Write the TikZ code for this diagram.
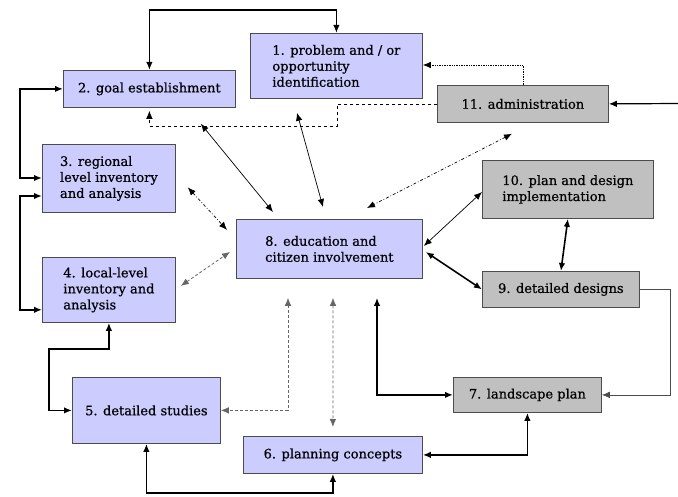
\documentclass[tikz,border=0pt]{standalone}
\usepackage{fontspec}
\setmainfont{DejaVu Serif}
\newfontfamily\boxfont[FakeBold=0.6]{DejaVu Serif}
\usetikzlibrary{calc}
\usetikzlibrary{arrows.meta}
\definecolor{boxblue}{RGB}{204,204,255}
\definecolor{boxgrey}{RGB}{192,192,192}

\begin{document}
\begin{tikzpicture}[
        x=1pt, y=-1pt,
        every node/.style={draw=black!70,line width=0.8pt,anchor=north west,align=left,inner sep=2pt,font=\boxfont\fontsize{13}{16}\selectfont},
        bluestep/.style={fill=boxblue},
        greystep/.style={fill=boxgrey},
        thinline/.style={line width=0.7pt},
        thickline/.style={line width=1.6pt},
        dotline/.style={line width=0.8pt,black!60,densely dashed},
        >={Latex[length=8pt,width=6.5pt]}
    ]
        \useasboundingbox (0,0) rectangle (678,497);
        \node[bluestep,minimum width=172,minimum height=65] (s1) at (250,33) {1. problem and / or\\opportunity\\identification};
        \node[bluestep,minimum width=172,minimum height=37] (s2) at (63,70) {2. goal establishment};
        \node[bluestep,minimum width=133,minimum height=68] (s3) at (42,144) {3. regional\\level inventory\\and analysis};
        \node[bluestep,minimum width=133,minimum height=65] (s4) at (42,257) {4. local-level\\inventory and\\analysis};
        \node[bluestep,minimum width=148,minimum height=66] (s5) at (72,377) {5. detailed studies};
        \node[bluestep,minimum width=179,minimum height=37] (s6) at (243,436) {6. planning concepts};
        \node[greystep,minimum width=148,minimum height=35] (s7) at (453,377) {7. landscape plan};
        \node[bluestep,minimum width=186,minimum height=59] (s8) at (236,219) {8. education and\\citizen involvement};
        \node[greystep,minimum width=157,minimum height=36] (s9) at (482,271) {9. detailed designs};
        \node[greystep,minimum width=171,minimum height=58] (s10) at (482,160) {10. plan and design\\implementation};
        \node[greystep,minimum width=171,minimum height=37] (s11) at (437,85) {11. administration};
        \coordinate (in11) at (678,103.5);

        % outer loop
        \draw[<->,thickline] (s2.north) -- ++(0,-60) -| (s1.north);
        \draw[<->,thickline] (s2.west) -- ++(-43,0) |- ($(s3.north west)+(0,34)$);
        \draw[<->,thickline] ($(s3.north west)+(0,52)$) -- ++(-22,0) |- ($(s4.south west)+(0,-13)$);
        \draw[<->,thickline] (s4.south) -- ++(0,26) -| ($(s5.west)+(-23,0)$) -- (s5.west);
        \draw[<->,thickline] (s5.south) -- ++(0,49) -| (s6.south);
        \draw[<->,thickline] (s6.east) -| (s7.south);
        \draw[<->,thickline] (s7.west) -| ($(s8.south west)+(141,19)$);
        \draw[->,thinline,black!70] (s9.east) -- ++(31,0) |- (s7.east);
        \draw[<->,thickline] (s10.south) -- (s9.north);
        \draw[<->,thickline] ($(s8.north east)+(3,33)$) -- (s9.west);
        \draw[<->,thinline] ($(s8.north east)+(1,27)$) -- ($(s10.north west)+(0,32)$);
        \draw[->,line width=1.2pt] (in11) -- (s11.east);

        % administration
        \draw[<->,thinline,dash dot] ($(s11.south west)+(75,11)$) -- ($(s8.north west)+(131,-11)$);
        \draw[->,thinline,densely dotted] (s11.north) |- ($(s1.north east)+(0,32)$);
        \draw[->,thinline,dashed] (s11.west) -- ++(-100,0) -- ++(0,22) -| ($(s2.south)+(0,3)$);

        % education and citizen involvement
        \draw[<->,thinline] ($(s2.south east)+(-35,16)$) -- ($(s8.north west)+(37,-7)$);
        \draw[<->,thinline] ($(s1.south west)+(47,14)$) -- ($(s8.north west)+(87,-12)$);
        \draw[<->,thinline,dash dot] ($(s3.east)+(12,9)$) -- ($(s8.west)+(-9,-19)$);
        \draw[<->,dotline] ($(s4.east)+(5,-4)$) -- ($(s8.west)+(-6,3)$);
        \draw[<->,dotline] ($(s8.south west)+(52,19)$) |- (s5.east);
        \draw[<->,dotline] ($(s8.south west)+(97,19)$) -- ($(s6.north)+(0,-9)$);
    \end{tikzpicture}
\end{document}
